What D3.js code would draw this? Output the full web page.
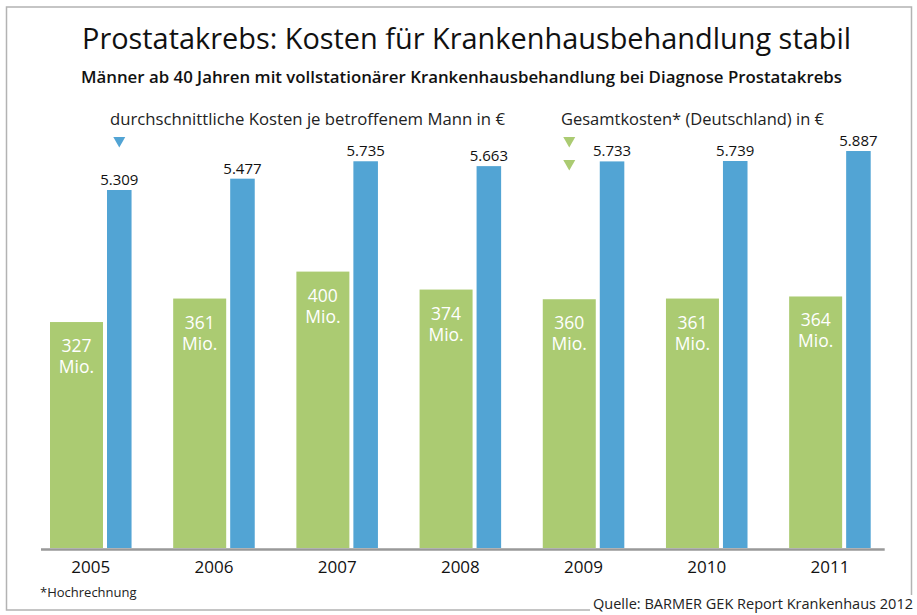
<!DOCTYPE html>
<html>
<head>
<meta charset="utf-8">
<script src="https://cdn.jsdelivr.net/npm/d3@7"></script>
<style>
  body { margin: 0; background: #fff; }
  text { font-family: "Open Sans", "Noto Sans", sans-serif; }
</style>
</head>
<body>
<div id="chart"></div>
<script>
// data
let years = ["2005", "2006", "2007", "2008", "2009", "2010", "2011"];
let gesamtMio = [327, 361, 400, 374, 360, 361, 364];      // Gesamtkosten in Mio. €
let kostenJeMann = [5309, 5477, 5735, 5663, 5733, 5739, 5887]; // € je Mann

let W = 917, H = 615;
let green = "#abcb72", blue = "#52a4d4";

let svg = d3.select("#chart")
  .append("svg")
  .attr("width", W)
  .attr("height", H);

// frame (open at the bottom right where the source sits)
svg.append("path")
  .attr("d", "M590,610 H6.5 V7 H911.5 V595")
  .attr("fill", "none")
  .attr("stroke", "#b3b3b3")
  .attr("stroke-width", 1.5);

// helper: squeeze a text to a given width
function fitText(sel, w) {
  if (sel.node().getComputedTextLength() > 0) {
    sel.attr("textLength", w).attr("lengthAdjust", "spacingAndGlyphs");
  }
  return sel;
}

// titles
fitText(svg.append("text")
  .attr("x", 82).attr("y", 49)
  .attr("font-size", 29)
  .attr("fill", "#111")
  .text("Prostatakrebs: Kosten für Krankenhausbehandlung stabil"), 769);

fitText(svg.append("text")
  .attr("x", 81).attr("y", 83)
  .attr("font-size", 16)
  .attr("font-weight", 600)
  .attr("fill", "#111")
  .text("Männer ab 40 Jahren mit vollstationärer Krankenhausbehandlung bei Diagnose Prostatakrebs"), 761);

// scales
let x = d3.scaleBand()
  .domain(years)
  .range([50, 870.7])
  .paddingInner(0.338)
  .paddingOuter(0);

let greenW = 53, gap = 4;
let blueW = x.bandwidth() - greenW - gap;

let yGreen = d3.scaleLinear().domain([0, 400]).range([548, 271.6]);
let yBlue = d3.scaleLinear().domain([0, 6000]).range([548, 143.4]);

// green bars
svg.append("g").selectAll("rect")
  .data(gesamtMio)
  .enter()
  .append("rect")
  .attr("x", (d, i) => x(years[i]))
  .attr("y", d => yGreen(d))
  .attr("width", greenW)
  .attr("height", d => 548 - yGreen(d))
  .attr("fill", green);

// labels inside green bars (two lines)
let gLab = svg.append("g")
  .attr("fill", "#fff")
  .attr("font-size", 17.5)
  .attr("text-anchor", "middle")
  .selectAll("text")
  .data(gesamtMio)
  .enter()
  .append("text")
  .attr("y", d => yGreen(d) + 30);
gLab.append("tspan")
  .attr("x", (d, i) => x(years[i]) + greenW / 2)
  .text(d => d);
gLab.append("tspan")
  .attr("x", (d, i) => x(years[i]) + greenW / 2)
  .attr("dy", 21)
  .text("Mio.");

// blue bars
svg.append("g").selectAll("rect")
  .data(kostenJeMann)
  .enter()
  .append("rect")
  .attr("x", (d, i) => x(years[i]) + greenW + gap)
  .attr("y", d => yBlue(d))
  .attr("width", blueW)
  .attr("height", d => 548 - yBlue(d))
  .attr("fill", blue);

// labels above blue bars
svg.append("g")
  .attr("font-size", 15)
  .attr("font-weight", 500)
  .attr("fill", "#111")
  .attr("text-anchor", "middle")
  .selectAll("text")
  .data(kostenJeMann)
  .enter()
  .append("text")
  .attr("x", (d, i) => x(years[i]) + greenW + gap + blueW / 2)
  .attr("y", d => yBlue(d) - 5)
  .text(d => d3.format(",")(d).replace(",", "."));

// x axis
let axis = svg.append("g")
  .attr("transform", "translate(0,549.5)")
  .call(d3.axisBottom(x).tickSize(0).tickPadding(0));
axis.select(".domain").remove();
axis.selectAll("text")
  .attr("font-family", "\"Open Sans\", sans-serif")
  .attr("font-size", 17)
  .attr("fill", "#111")
  .attr("dy", 23.5);

svg.append("line")
  .attr("x1", x.range()[0] - 9)
  .attr("x2", x.range()[1] + 14)
  .attr("y1", 549.5).attr("y2", 549.5)
  .attr("stroke", "#999")
  .attr("stroke-width", 2.5);

// legend
fitText(svg.append("text")
  .attr("x", 110).attr("y", 125)
  .attr("font-size", 16.5)
  .attr("fill", "#222")
  .text("durchschnittliche Kosten je betroffenem Mann in €"), 395);

fitText(svg.append("text")
  .attr("x", 561).attr("y", 125)
  .attr("font-size", 16.5)
  .attr("fill", "#222")
  .text("Gesamtkosten* (Deutschland) in €"), 263);

function tri(cx, top, color) {
  svg.append("path")
    .attr("d", d3.line()([[cx - 6, top], [cx + 6, top], [cx, top + 10.5]]) + "Z")
    .attr("fill", color);
}
let blueCx = x(years[0]) + greenW + gap + blueW / 2;
let greenCx = x(years[4]) + greenW / 2;
tri(blueCx, 137, blue);
tri(greenCx, 137, green);
tri(greenCx, 160, green);

// footnote and source
svg.append("text")
  .attr("x", 40).attr("y", 597)
  .attr("font-size", 13)
  .attr("fill", "#222")
  .text("*Hochrechnung");

fitText(svg.append("text")
  .attr("x", 593).attr("y", 609)
  .attr("font-size", 14.5)
  .attr("fill", "#222")
  .text("Quelle: BARMER GEK Report Krankenhaus 2012"), 320);
</script>
</body>
</html>
